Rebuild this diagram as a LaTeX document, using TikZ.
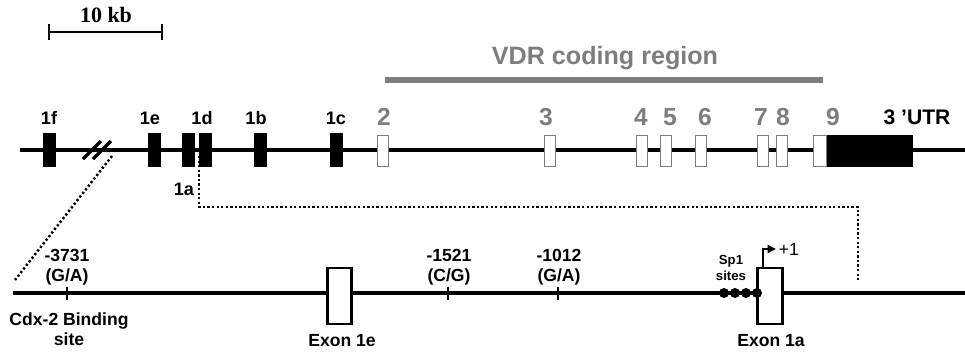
\documentclass[tikz,border=0pt]{standalone}
\usepackage{fontspec}
\setmainfont{Liberation Serif}
\setsansfont{Liberation Sans}
\usetikzlibrary{arrows.meta}
\definecolor{vdrgray}{RGB}{125,125,125}
\tikzset{
	gene/.style={line width=2.2pt},
	bexon/.style={draw=black, fill=black, inner sep=0pt, minimum width=0.24cm, minimum height=0.66cm},
	wexon/.style={draw=vdrgray, fill=white, line width=0.9pt, inner sep=0pt, minimum width=0.22cm, minimum height=0.62cm},
	pexon/.style={draw=black, fill=white, line width=1.2pt, inner sep=0pt, minimum width=0.48cm, minimum height=1.12cm},
	elab/.style={font=\sffamily\bfseries\fontsize{10.3}{12}\selectfont},
	nlab/.style={text=vdrgray, font=\sffamily\bfseries\fontsize{14}{16}\selectfont},
	slab/.style={font=\sffamily\bfseries\fontsize{10}{11.5}\selectfont, align=center},
	snp/.style={line width=1.3pt},
	link/.style={line width=1.4pt, dash pattern=on 1.3pt off 1.3pt},
}

\begin{document}
\begin{tikzpicture}[x=0.02cm, y=-0.02cm]
	%defs
	\def\rad{0.1cm}
	\useasboundingbox (0,0) rectangle (965,352);
	\coordinate (sbl) at (48,32);
	\coordinate (sbr) at (163,32);
	\coordinate (cl) at (385,80);
	\coordinate (cr) at (823,80);
	\coordinate (tl) at (20,150);
	\coordinate (tr) at (965,150);
	\coordinate (bl) at (13,293);
	\coordinate (br) at (965,293);
	%scale bar
	\draw [line width=1.3pt, {Bar[width=0.32cm]}-{Bar[width=0.32cm]}] (sbl) -- (sbr);
	\node[font=\rmfamily\bfseries\fontsize{12.5}{14}\selectfont] (kb) at (106,15) {10 kb};
	%coding region
	\draw [vdrgray, line width=3.4pt] (cl) -- (cr);
	\node[text=vdrgray, font=\sffamily\bfseries\fontsize{14.3}{16}\selectfont] (vdr) at (605,58) {VDR coding region};
	%top gene
	\draw [gene] (tl) -- (tr);
	\node[bexon] (e1f) at (49,150) {};
	\node[bexon] (e1e) at (154,150) {};
	\node[bexon] (e1d) at (188,150) {};
	\node[bexon] (e1a) at (205,150) {};
	\node[bexon] (e1b) at (260,150) {};
	\node[bexon] (e1c) at (336,150) {};
	\node[wexon] (e2) at (383,151) {};
	\node[wexon] (e3) at (550,151) {};
	\node[wexon] (e4) at (642,151) {};
	\node[wexon] (e5) at (666,151) {};
	\node[wexon] (e6) at (701,151) {};
	\node[wexon] (e7) at (763,151) {};
	\node[wexon] (e8) at (782,151) {};
	\node[wexon, minimum width=0.26cm] (e9) at (820,151) {};
	\node[bexon, minimum width=1.7cm, minimum height=0.62cm] (utr) at (869.5,151) {};
	%break
	\coordinate (brk) at (112,156);
	\draw [line width=2pt] (83,159) -- (101,141);
	\draw [line width=2pt] (93,159) -- (111,141);
	%labels top
	\node[elab] (l1f) at (49,118) {1f};
	\node[elab] (l1e) at (150,118) {1e};
	\node[elab] (l1d) at (202,118) {1d};
	\node[elab] (l1b) at (256,118) {1b};
	\node[elab] (l1c) at (336,118) {1c};
	\node[elab] (l1a) at (184,189) {1a};
	\node[nlab] (l2) at (384,117) {2};
	\node[nlab] (l3) at (546,117) {3};
	\node[nlab] (l4) at (641,117) {4};
	\node[nlab] (l5) at (670,117) {5};
	\node[nlab] (l6) at (705,117) {6};
	\node[nlab] (l7) at (761,117) {7};
	\node[nlab] (l8) at (783,117) {8};
	\node[nlab] (l9) at (833,117) {9};
	\node[font=\sffamily\bfseries\fontsize{12}{14}\selectfont] (lutr) at (917,117) {3 'UTR};
	%zoom links
	\coordinate (z1) at (15,280);
	\coordinate (z2) at (199,156);
	\coordinate (z3) at (199,207);
	\coordinate (z4) at (858,207);
	\coordinate (z5) at (858,280);
	\draw [link] (brk) -- (z1);
	\draw [link] (z2) -- (z3) -- (z4) -- (z5);
	%bottom promoter
	\draw [gene] (bl) -- (br);
	\coordinate (s1) at (67,293);
	\coordinate (s2) at (448,293);
	\coordinate (s3) at (558,293);
	\draw [snp] ([yshift=0.13cm]s1) -- ([yshift=-0.13cm]s1);
	\draw [snp] ([yshift=0.13cm]s2) -- ([yshift=-0.13cm]s2);
	\draw [snp] ([yshift=0.13cm]s3) -- ([yshift=-0.13cm]s3);
	\node[slab] (ls1) at (67,267) {-3731\\(G/A)};
	\node[slab] (ls2) at (449,267) {-1521\\(C/G)};
	\node[slab] (ls3) at (559,267) {-1012\\(G/A)};
	\node[slab] (lcdx) at (69,329) {Cdx-2 Binding\\site};
	\node[pexon] (x1e) at (339.5,296) {};
	\node[pexon, minimum width=0.5cm] (x1a) at (770,296) {};
	\node[slab] (lx1e) at (342,341) {Exon 1e};
	\node[slab] (lx1a) at (771,341) {Exon 1a};
	%dots
	\fill (724,293) circle [radius=\rad];
	\fill (735,293) circle [radius=\rad];
	\fill (746,293) circle [radius=\rad];
	\fill (757,293) circle [radius=\rad];
	\node[font=\sffamily\bfseries\fontsize{7.5}{9}\selectfont, align=center] (lsp) at (731,268) {Sp1\\sites};
	%start site
	\coordinate (tss) at (763,267);
	\coordinate (tssb) at (763,249);
	\coordinate (tsse) at (776,249);
	\draw [line width=1pt, -{Triangle[length=0.17cm, width=0.16cm]}] (tss) -- (tssb) -- (tsse);
	\node[font=\sffamily\fontsize{10}{11}\selectfont] (lp1) at (789,249) {+1};
\end{tikzpicture}
\end{document}
